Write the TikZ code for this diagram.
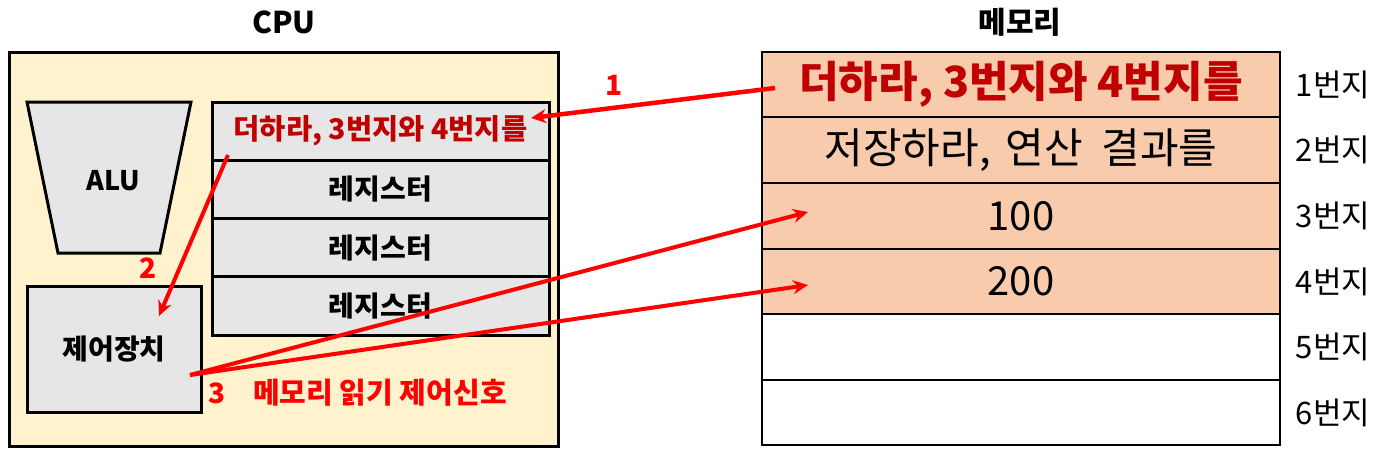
\documentclass[tikz,border=0pt]{standalone}
\usepackage{fontspec}
\setmainfont{Noto Sans CJK KR}
\usetikzlibrary{arrows.meta,calc}
\definecolor{cream}{HTML}{FFF2CC}
\definecolor{cellgray}{HTML}{E6E6E6}
\definecolor{peach}{HTML}{F8CBAD}
\definecolor{darkred}{HTML}{C00000}
\definecolor{arrowred}{HTML}{FF0000}
\newcommand\setfs[1]{\fontsize{#1}{#1}\selectfont}
\begin{document}
\begin{tikzpicture}[x=1pt,y=-1pt,
  graybox/.style={draw, line width=3pt, fill=cellgray, inner sep=0pt, anchor=center},
  regbox/.style={graybox, minimum width=337pt, minimum height=58.25pt, font=\setfs{28}\bfseries},
  memcell/.style={draw, line width=2pt, minimum width=518pt, minimum height=65.5pt, inner sep=0pt, anchor=center},
  addr/.style={font=\setfs{31}, anchor=center},
  redarrow/.style={draw=arrowred, line width=4pt, -{Stealth[length=15pt,width=14pt]}},
  steplabel/.style={text=arrowred, font=\setfs{28}\bfseries, anchor=center},
  title/.style={font=\setfs{30}\bfseries, anchor=center}]
\useasboundingbox (0,0) rectangle (1389,456);

% titles
\node[title] (cputitle) at (284,22) {CPU};
\node[title] (memtitle) at (1020,22) {메모리};

% CPU box
\node[draw, line width=3pt, fill=cream, minimum width=549pt, minimum height=394pt, anchor=center] (cpu) at (283.5,249) {};

% ALU
\draw[line width=3pt, fill=cellgray] (27,102) coordinate (alutl) -- (191,102) -- (160,253) -- (58,253) -- cycle;
\node[font=\setfs{27}\bfseries] (alu) at (113,181) {ALU};

% registers
\node[regbox, text=darkred, font=\setfs{28.5}\bfseries] (r0) at (380.5,131.125) {더하라, 3번지와 4번지를};
\node[regbox] (r1) at (380.5,189.375) {레지스터};
\node[regbox] (r2) at (380.5,247.625) {레지스터};
\node[regbox] (r3) at (380.5,305.875) {레지스터};

% control unit
\node[graybox, minimum width=174pt, minimum height=126pt, font=\setfs{28}\bfseries] (ctrl) at (114,349) {제어장치};

% memory
\node[memcell, fill=peach, font=\setfs{43}\bfseries, text=darkred] (m1) at (1021,84.5) {더하라, 3번지와 4번지를};
\node[memcell, fill=peach, font=\setfs{42}] (m2) at (1021,150) {저장하라,\hspace{0.35em}연산\hspace{0.45em}결과를};
\node[memcell, fill=peach, font=\setfs{40}] (m3) at (1021,216) {100};
\node[memcell, fill=peach, font=\setfs{40}] (m4) at (1021,281.5) {200};
\node[memcell] (m5) at (1021,347) {};
\node[memcell] (m6) at (1021,412.5) {};

\node[addr] (a1) at (1333,84.5) {1번지};
\node[addr] (a2) at (1333,150) {2번지};
\node[addr] (a3) at (1333,216) {3번지};
\node[addr] (a4) at (1333,281.5) {4번지};
\node[addr] (a5) at (1333,347) {5번지};
\node[addr] (a6) at (1333,412.5) {6번지};

% arrow endpoints
\coordinate (s1) at (775,88);
\coordinate (e1) at (531,118);
\coordinate (s2) at (228,155);
\coordinate (e2) at (159,316);
\coordinate (s3) at (190,375);
\coordinate (e3a) at (808,212);
\coordinate (e3b) at (808,285);

\draw[redarrow, line width=4.5pt] (s1) -- (e1);
\draw[redarrow] (s2) -- (e2);
\draw[redarrow] (s3) -- (e3a);
\draw[redarrow] (s3) -- (e3b);

\node[steplabel] (l1) at (614,85) {1};
\node[steplabel] (l2) at (148,268) {2};
\node[steplabel] (l3) at (217,393) {3};
\node[steplabel, font=\setfs{29}\bfseries] (l3t) at (380,393) {메모리 읽기 제어신호};
\end{tikzpicture}
\end{document}
